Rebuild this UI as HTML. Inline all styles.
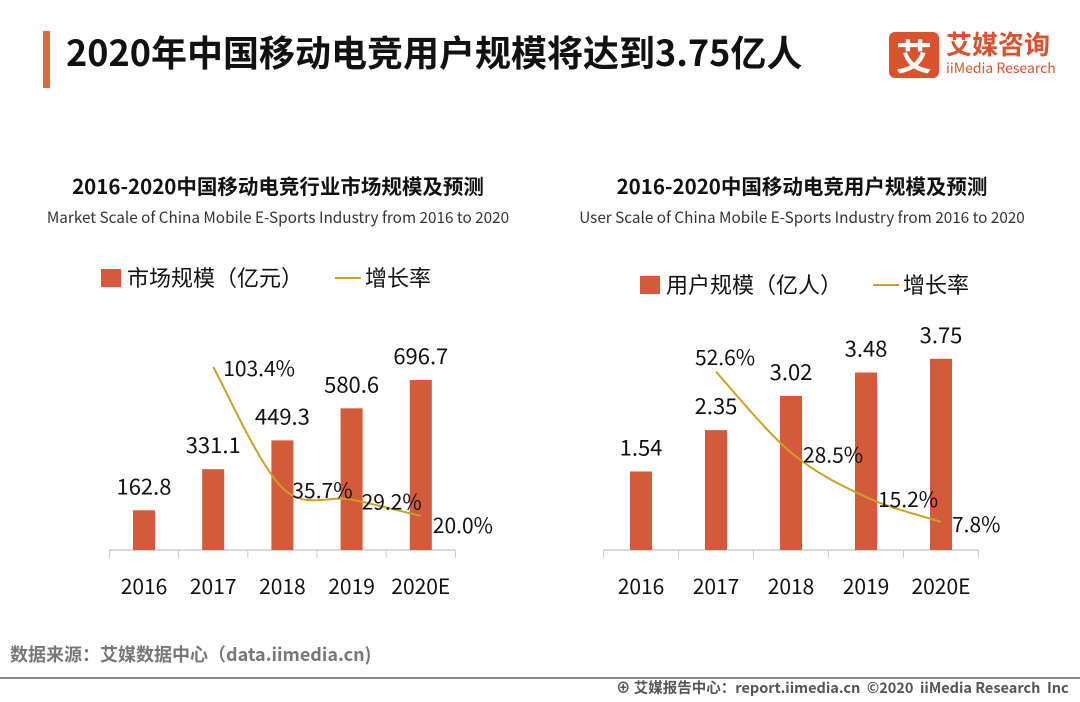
<!DOCTYPE html>
<html><head><meta charset="utf-8"><style>
body{margin:0;width:1080px;height:702px;background:#fff;font-family:"Noto Sans CJK SC","Liberation Sans",sans-serif;overflow:hidden;position:relative}
.t{position:absolute;white-space:nowrap;line-height:1.2}
svg text{font-family:"Noto Sans CJK SC","Liberation Sans",sans-serif}
</style></head><body>
<div style="position:absolute;left:43px;top:31px;width:7px;height:57px;background:#e8663f"></div>
<div class="t" style="left:66px;top:30px;font-size:36px;font-weight:bold;color:#111">2020年中国移动电竞用户规模将达到3.75亿人</div>
<div style="position:absolute;left:889px;top:32px;width:50px;height:46px;background:#d9532f;border-radius:6px;color:#fff;font-size:36px;font-weight:bold;text-align:center;line-height:46px">艾</div>
<div class="t" style="left:946px;top:28px;font-size:26px;font-weight:bold;color:#d9532f">艾媒咨询</div>
<div class="t" style="left:946px;top:60px;font-size:14px;color:#d9532f">iiMedia Research</div>
<svg id="c" width="1080" height="702" style="position:absolute;left:0;top:0"></svg>
<div class="t" style="left:10px;top:644px;font-size:18px;font-weight:bold;color:#777">数据来源：艾媒数据中心（data.iimedia.cn)</div>
<div style="position:absolute;left:0;top:677px;width:1080px;height:2px;background:#888"></div>
<div class="t" style="left:616px;top:679px;font-size:14.5px;font-weight:bold;color:#555">⊕ 艾媒报告中心：report.iimedia.cn &nbsp;©2020 &nbsp;iiMedia Research &nbsp;Inc</div>
<script>
const years=["2016","2017","2018","2019","2020E"];
const marketVals=[162.8,331.1,449.3,580.6,696.7];
const marketGrowth=[null,103.4,35.7,29.2,20.0];
const marketGrowthLabels=["","103.4%","35.7%","29.2%","20.0%"];
const userVals=[1.54,2.35,3.02,3.48,3.75];
const userGrowth=[null,52.6,28.5,15.2,7.8];
const userGrowthLabels=["","52.6%","28.5%","15.2%","7.8%"];
const svg=document.getElementById('c');const NS="http://www.w3.org/2000/svg";
function mk(t,a,txt){const e=document.createElementNS(NS,t);for(const k in a)e.setAttribute(k,a[k]);if(txt!==undefined)e.textContent=txt;svg.appendChild(e);return e;}
function chart(o){
 const base=550;const x=i=>o.x0+i*o.step;const yb=v=>base-v*o.bk;const yl=p=>o.lb-p*o.lk;
 let e=mk('text',{x:o.cx,y:194,'text-anchor':'middle','font-size':20.5,'font-weight':'bold',fill:'#111'},o.title);
 
 e=mk('text',{x:o.cx,y:223,'text-anchor':'middle','font-size':15.3,fill:'#333'},o.sub);
 
 e=mk('rect',{x:o.lgx,y:o.lgy-9,width:20,height:18,fill:'#d35a3a'});
 
 e=mk('text',{x:o.lgx+26,y:o.lgy+8,'font-size':22,fill:'#111'},o.leg);
 
 e=mk('line',{x1:o.lgx2,x2:o.lgx2+26,y1:o.lgy,y2:o.lgy,stroke:'#c9a227','stroke-width':2});
 
 e=mk('text',{x:o.lgx2+30,y:o.lgy+8,'font-size':22,fill:'#111'},'增长率');
 
 const h=o.step/2;
 e=mk('line',{x1:x(0)-h,x2:x(4)+h,y1:base,y2:base,stroke:'#ccc','stroke-width':1.5});
 
 for(let i=0;i<=5;i++){e=mk('line',{x1:x(i)-h,x2:x(i)-h,y1:base,y2:base+8,stroke:'#ccc'});}
 o.vals.forEach((v,i)=>{
  e=mk('rect',{x:x(i)-11,y:yb(v),width:22,height:v*o.bk,fill:'#d35a3a'});
  
  e=mk('text',{x:x(i),y:yb(v)-16,'text-anchor':'middle','font-size':22,fill:'#111'},String(v.toFixed(o.dp)));
  
  e=mk('text',{x:x(i),y:594,'text-anchor':'middle','font-size':21,fill:'#111'},years[i]);
  
 });
 const pts=[];o.g.forEach((p,i)=>{if(p!==null)pts.push([x(i),yl(p),i]);});
 let d='M'+pts[0][0]+','+pts[0][1];
 for(let i=0;i<pts.length-1;i++){const p0=pts[i-1]||pts[i],p1=pts[i],p2=pts[i+1],p3=pts[i+2]||p2;
  d+=' C'+(p1[0]+(p2[0]-p0[0])/6)+','+(p1[1]+(p2[1]-p0[1])/6)+' '+(p2[0]-(p3[0]-p1[0])/6)+','+(p2[1]-(p3[1]-p1[1])/6)+' '+p2[0]+','+p2[1];}
 e=mk('path',{d:d,fill:'none',stroke:'#c9a227','stroke-width':2});
 
 pts.forEach((p,k)=>{const off=o.off[k];e=mk('text',{x:p[0]+off[0],y:p[1]+off[1],'font-size':21,fill:'#111'},o.gl[p[2]]);
  });
}
chart({x0:144,step:69.2,bk:0.244,lb:551.7,lk:1.786,dp:1,cx:278,vals:marketVals,g:marketGrowth,gl:marketGrowthLabels,
 off:[[10,9],[10,10],[10,10],[12,17]],
 title:'2016-2020中国移动电竞行业市场规模及预测',sub:'Market Scale of China Mobile E-Sports Industry from 2016 to 2020',
 leg:'市场规模（亿元）',lgx:101,lgy:278,lgx2:335});
chart({x0:641,step:75,bk:51,lb:548,lk:3.35,dp:2,cx:802,vals:userVals,g:userGrowth,gl:userGrowthLabels,
 off:[[-21,-7],[12,10],[12,10],[11,10]],
 title:'2016-2020中国移动电竞用户规模及预测',sub:'User Scale of China Mobile E-Sports Industry from 2016 to 2020',
 leg:'用户规模（亿人）',lgx:640,lgy:285,lgx2:873});
</script>
</body></html>
